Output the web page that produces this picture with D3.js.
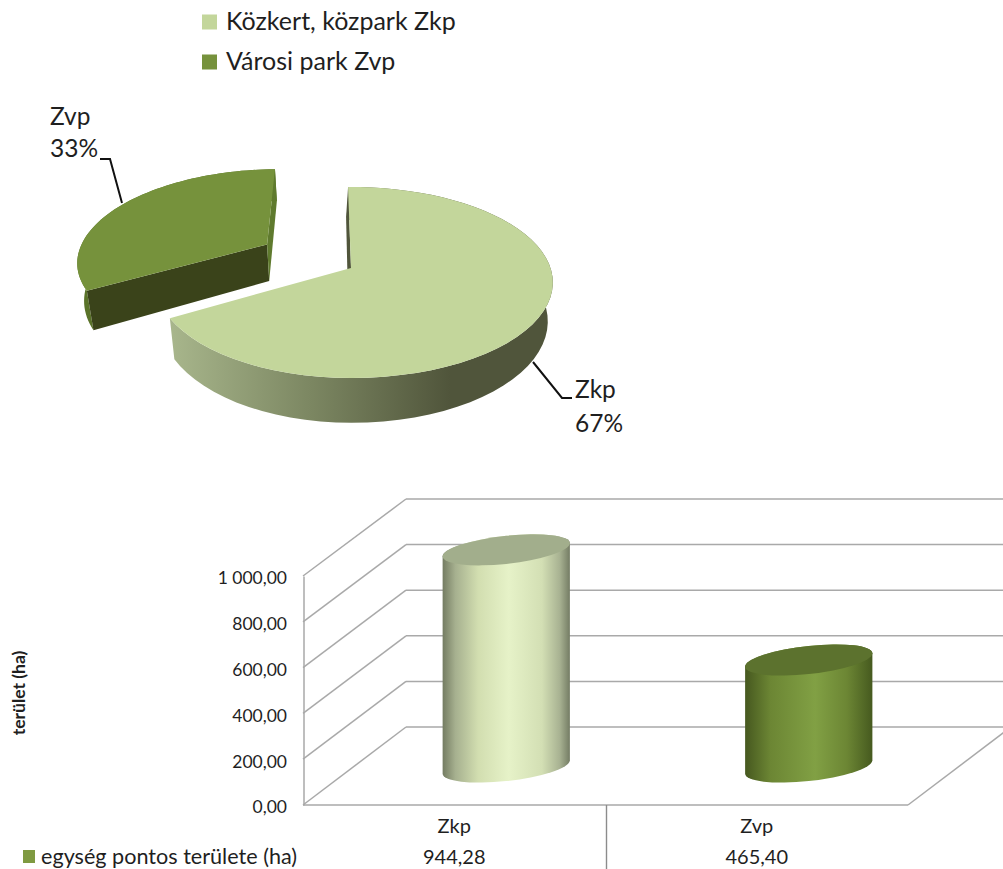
<!DOCTYPE html>
<html>
<head>
<meta charset="utf-8">
<script src="https://cdn.jsdelivr.net/npm/d3@7"></script>
<style>
  html, body { margin: 0; padding: 0; background: #fff; }
  svg { display: block; font-family: Lato, sans-serif; fill: #1f1f1f; }
</style>
</head>
<body>
<div id="chart"></div>
<script>
// data
const pieNames = ['Zkp', 'Zvp'];
const pieLegend = ['Közkert, közpark Zkp', 'Városi park Zvp'];
const piePercents = [67, 33];
const barCategories = ['Zkp', 'Zvp'];
const barValues = [944.28, 465.40];
const axisTicks = [0, 200, 400, 600, 800, 1000];
const barSeriesName = 'egység pontos területe (ha)';
const axisTitle = 'terület (ha)';

const width = 1003, height = 869;
const svg = d3.select('#chart').append('svg')
  .attr('width', width)
  .attr('height', height);
const defs = svg.append('defs');

const gradient = (id, attrs, stops) => {
  const g = defs.append('linearGradient').attr('id', id);
  Object.entries(attrs).forEach(([k, v]) => g.attr(k, v));
  stops.forEach(([o, c]) => g.append('stop').attr('offset', o).attr('stop-color', c));
};

gradient('pieSide', {gradientUnits: 'userSpaceOnUse', x1: 170, x2: 450, y1: 0, y2: 0}, [
  [0, '#a8b68c'], [0.5, '#7c8762'], [1, '#50553b']
]);
gradient('cylZkp', {x1: 0, x2: 1, y1: 0, y2: 0}, [
  [0, '#747c62'], [0.1, '#a6b08f'], [0.28, '#d2deb0'], [0.52, '#e6f2c8'], [0.78, '#d3dfb4'], [0.92, '#a8b292'], [1, '#747c64']
]);
gradient('cylZvp', {x1: 0, x2: 1, y1: 0, y2: 0}, [
  [0, '#46581f'], [0.2, '#6c8634'], [0.55, '#81a044'], [0.8, '#6c8634'], [1, '#465a1f']
]);

// ---- 3D pie ----
const pieTop = ['#c3d69b', '#76923c'];
const persp = 0.152;
const pieCx = 351, pieCy = 268, pieRy = 93.3;

// tilted disc in perspective, u/v are plane coordinates
const project = (u, v, drop) => {
  const w = 1 / (1 - persp * v);
  const rx = u < 0 ? 193 : 199.5;
  return [
    pieCx + rx * u * w * (drop ? 0.975 : 1),
    pieCy + pieRy * v * w + (drop ? 38 * w : 0)
  ];
};

const arcs = d3.pie().sort(null).startAngle(-Math.PI / 180)
  .endAngle(2 * Math.PI - Math.PI / 180)(piePercents);
const explode = [[0, 0], [-0.452, -0.262]];

const rim = (d, i, drop) => d3.range(0, 61).map(n => {
  const a = d.startAngle + (d.endAngle - d.startAngle) * n / 60;
  return project(Math.sin(a) + explode[i][0], -Math.cos(a) + explode[i][1], drop);
});
const apex = (i, drop) => project(explode[i][0], explode[i][1], drop);
const line = d3.line();
const poly = pts => line(pts) + 'Z';

const pieG = svg.append('g').attr('class', 'pie');

// exploded slice first, it sits behind
{
  const d = arcs[1], top = rim(d, 1, false), bot = rim(d, 1, true);
  pieG.append('path').attr('d', poly(top.concat(bot.slice().reverse()))).attr('fill', '#5a7329');
  pieG.append('path').attr('d', poly([apex(1, false), top[0], bot[0], apex(1, true)])).attr('fill', '#3a431a');
  pieG.append('path').attr('d', poly([apex(1, false), top[60], bot[60], apex(1, true)])).attr('fill', '#5f7a2e');
  pieG.append('path').attr('d', poly([apex(1, false)].concat(top))).attr('fill', pieTop[1]);
}
{
  const d = arcs[0], top = rim(d, 0, false), bot = rim(d, 0, true);
  pieG.append('path').attr('d', poly(top.concat(bot.slice().reverse()))).attr('fill', 'url(#pieSide)');
  const a = apex(0, false);
  pieG.append('path')
    .attr('d', poly([top[0], a, [a[0] - 3, a[1] + 30], [top[0][0] - 2, top[0][1] + 30]]))
    .attr('fill', '#50553b');
  pieG.append('path').attr('d', poly([a].concat(top))).attr('fill', pieTop[0]);
}

// leader lines
const leaders = [
  [[572, 398], [562, 398], [533, 362]],
  [[100, 159], [110, 159], [122, 203]]
];
svg.selectAll('.leader').data(leaders).join('path')
  .attr('class', 'leader')
  .attr('d', d3.line())
  .attr('fill', 'none')
  .attr('stroke', '#111')
  .attr('stroke-width', 2);

// data labels
const labelPos = [[575, 398, 432], [50, 125, 157]];
pieNames.forEach((name, i) => {
  const [x, y1, y2] = labelPos[i];
  svg.append('text').attr('x', x).attr('y', y1).attr('font-size', 24.5).text(name);
  svg.append('text').attr('x', x).attr('y', y2).attr('font-size', 24.5).text(piePercents[i] + '%');
});

// pie legend
const legendY = d3.scalePoint().domain(pieLegend).range([22, 62]);
const legendG = svg.selectAll('.pie-legend').data(pieLegend).join('g')
  .attr('class', 'pie-legend')
  .attr('transform', d => `translate(202, ${legendY(d)})`);
legendG.append('rect')
  .attr('y', -7.5).attr('width', 15).attr('height', 15)
  .attr('fill', (d, i) => pieTop[i]);
legendG.append('text')
  .attr('x', 24).attr('y', 8)
  .attr('font-size', 25)
  .text(d => d);

// ---- 3D cylinder chart ----
const depth = {x: 103};
const x = d3.scaleBand().domain(barCategories).range([303, 908]);
const yFront = d3.scaleLinear().domain([0, 1000]).range([805, 576]);
const yBack = d3.scaleLinear().domain([0, 1000]).range([727, 499]);
const yBar = d3.scaleLinear().domain([0, 1000]).range([767, 537]);

const hu = d3.formatLocale({decimal: ',', thousands: ' ', grouping: [3], currency: ['', '']});
const fmt = hu.format(',.2f');
const gridColor = '#a9a9a9';

const wall = svg.append('g').attr('class', 'walls')
  .attr('fill', 'none').attr('stroke', gridColor).attr('stroke-width', 1.5);

wall.selectAll('.side').data(axisTicks).join('line')
  .attr('class', 'side')
  .attr('x1', 303).attr('x2', 303 + depth.x)
  .attr('y1', d => yFront(d)).attr('y2', d => yBack(d));
wall.selectAll('.back').data(axisTicks).join('line')
  .attr('class', 'back')
  .attr('x1', 303 + depth.x).attr('x2', width)
  .attr('y1', d => yBack(d)).attr('y2', d => yBack(d));
wall.append('line')
  .attr('x1', 303).attr('x2', 908)
  .attr('y1', yFront(0)).attr('y2', yFront(0));
wall.append('line')
  .attr('x1', 908).attr('x2', 908 + depth.x)
  .attr('y1', yFront(0)).attr('y2', yBack(0));

const yAxis = svg.append('g')
  .attr('transform', 'translate(303.5, 0)')
  .call(d3.axisLeft(yFront).tickValues(axisTicks).tickFormat(fmt).tickSize(0).tickPadding(16.5));
yAxis.select('.domain').attr('stroke', gridColor).attr('stroke-width', 1.5);
yAxis.selectAll('text')
  .attr('font-family', 'Lato, sans-serif')
  .attr('font-size', 17.5)
  .attr('dy', '0.45em')
  .attr('fill', '#1f1f1f');

svg.append('text')
  .attr('transform', 'translate(25, 693) rotate(-90)')
  .attr('text-anchor', 'middle')
  .attr('font-size', 17.5)
  .attr('font-weight', 700)
  .text(axisTitle);

// cylinders
const cylA = 64, cylB = 14, cylTilt = -6.3;
const th = cylTilt * Math.PI / 180;
const halfW = Math.sqrt(cylA * cylA * Math.cos(th) ** 2 + cylB * cylB * Math.sin(th) ** 2);
const tipY = (cylA * cylA - cylB * cylB) * Math.sin(th) * Math.cos(th) / halfW;
const cylCx = d => x(d) + x.bandwidth() / 2 + 52;
const arcTo = (px, py, sweep) => `A${cylA},${cylB} ${cylTilt} 0 ${sweep} ${px},${py}`;

const cyl = svg.selectAll('.cyl').data(barCategories).join('g').attr('class', 'cyl');
cyl.append('path')
  .attr('fill', (d, i) => i ? 'url(#cylZvp)' : 'url(#cylZkp)')
  .attr('d', (d, i) => {
    const cx = cylCx(d), top = yBar(barValues[i]), base = yBar(0);
    return `M${cx - halfW},${top - tipY}L${cx - halfW},${base - tipY}`
      + arcTo(cx + halfW, base + tipY, 0)
      + `L${cx + halfW},${top + tipY}`
      + arcTo(cx - halfW, top - tipY, 0) + 'Z';
  });
cyl.append('path')
  .attr('fill', (d, i) => i ? '#5c722e' : '#a2ae8c')
  .attr('d', (d, i) => {
    const cx = cylCx(d), top = yBar(barValues[i]);
    return `M${cx - halfW},${top - tipY}`
      + arcTo(cx + halfW, top + tipY, 0)
      + arcTo(cx - halfW, top - tipY, 0) + 'Z';
  });

// data table under the chart
svg.append('line')
  .attr('x1', 606.5).attr('x2', 606.5)
  .attr('y1', yFront(0)).attr('y2', height)
  .attr('stroke', '#8c8c8c').attr('stroke-width', 1.4);

const table = svg.selectAll('.row').data(barCategories).join('g').attr('class', 'row')
  .attr('text-anchor', 'middle')
  .attr('font-size', 20);
table.append('text')
  .attr('x', d => x(d) + x.bandwidth() / 2).attr('y', 833)
  .text(d => d);
table.append('text')
  .attr('x', d => x(d) + x.bandwidth() / 2).attr('y', 864)
  .text((d, i) => fmt(barValues[i]));

svg.append('rect')
  .attr('x', 23).attr('y', 850).attr('width', 12).attr('height', 13)
  .attr('fill', '#7f9a41');
svg.append('text')
  .attr('x', 41).attr('y', 864)
  .attr('font-size', 21.6)
  .text(barSeriesName);
</script>
</body>
</html>
